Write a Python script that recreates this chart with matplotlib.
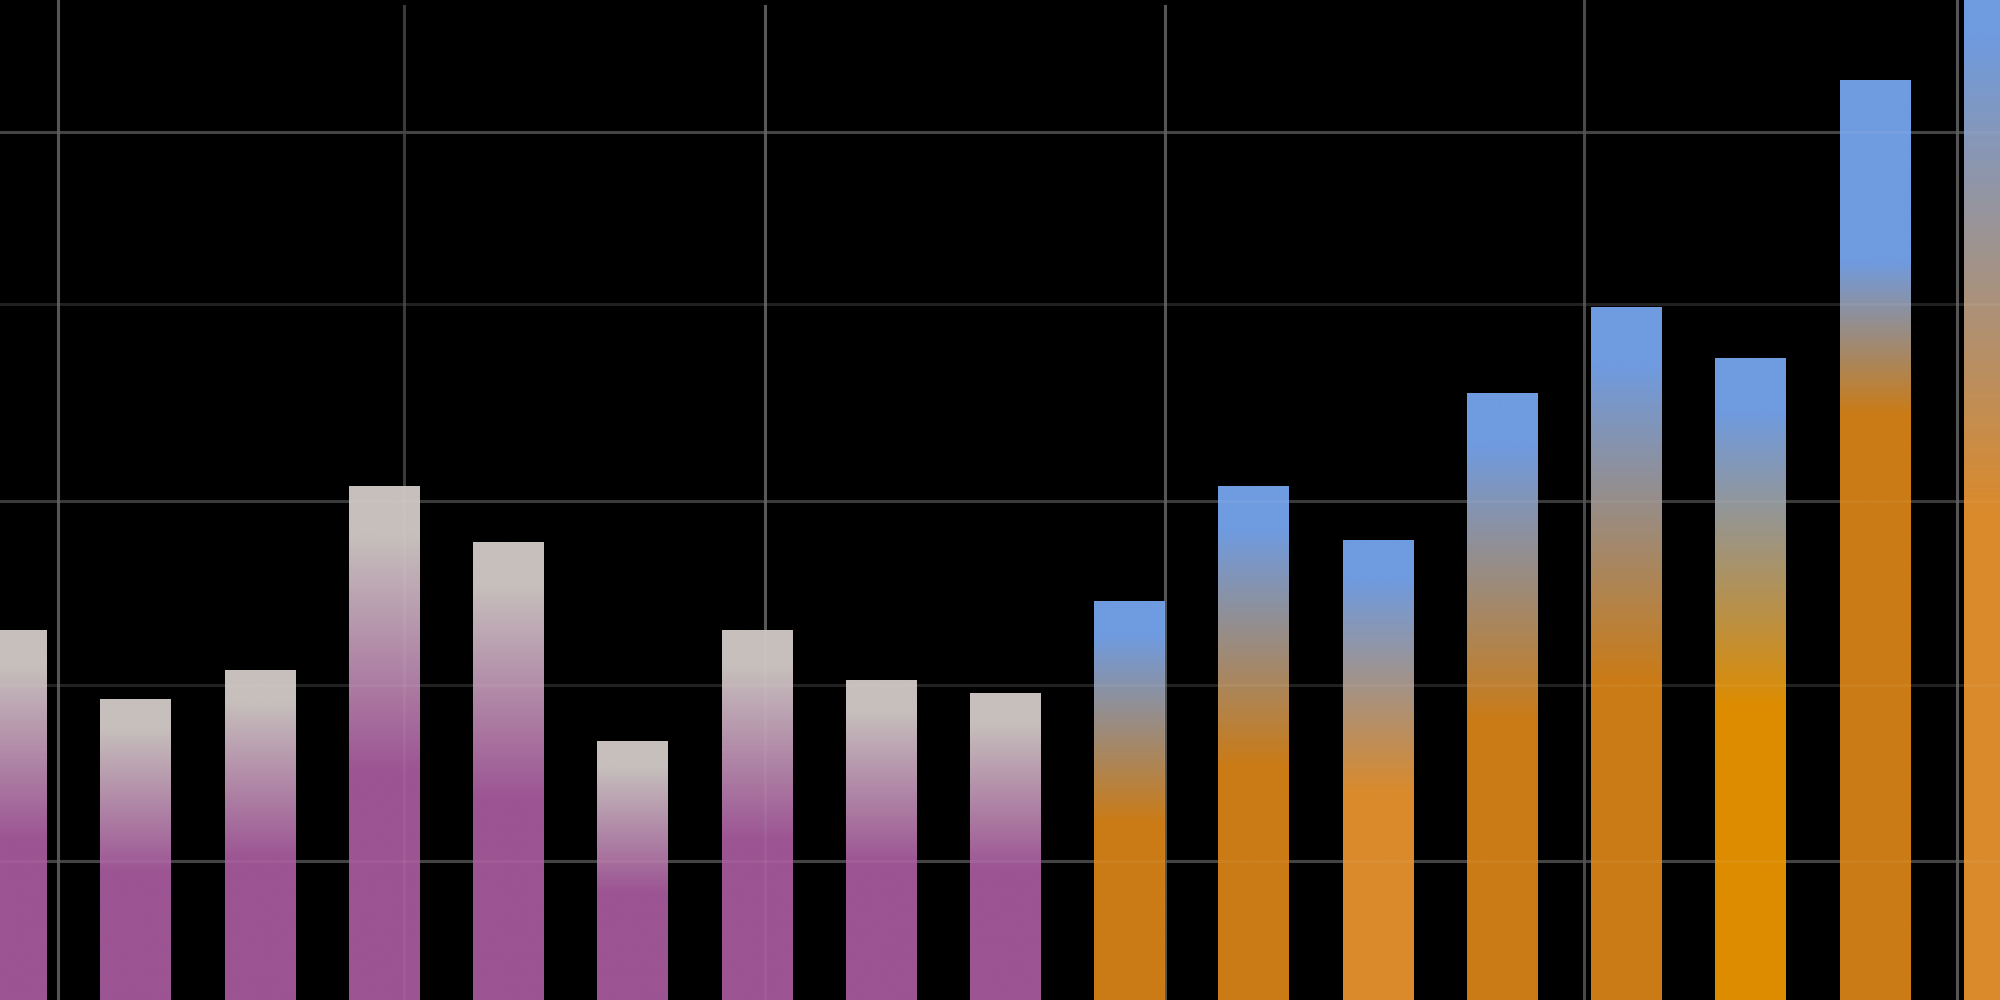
"""
Gradient bar chart on a black background: two groups of bars,
purple fading to grey and orange fading to blue toward the top.
"""

import numpy as np
import matplotlib.pyplot as plt
from matplotlib.colors import to_rgb

# bar values (baseline sits just under the bottom edge of the picture)
values = [39.8, 32.9, 35.8, 54.2, 48.6, 28.7, 39.8, 34.8, 33.5,
          42.7, 54.2, 48.8, 63.5, 72.1, 67.0, 94.8, 107.9]
series = ["purple"] * 9 + ["orange"] * 8

base_colors = ["#9C5493"] * 9 + ["#CB7B15", "#CB7B15", "#DA8A2B", "#CB7B15",
                                 "#CB7B15", "#DD8C00", "#CB7B15", "#DA8A2B"]
top_colors = {"purple": "#C6BFBC", "orange": "#6F9BE0"}

# fraction of bar height where blending starts / ends
blend_lo = [0.47] * 9 + [0.48] * 6 + [0.647, 0.48]
blend_hi = [0.91] * 9 + [0.92] * 6 + [0.81, 0.92]

# grid lines (position, grey level before the faint white overlay)
hgrid = [(89.6, "#3a3a3a"), (72.4, "#161616"), (52.7, "#303030"),
         (34.3, "#161616"), (16.7, "#3a3a3a")]
vgrid = [(0.376, "#4c4c4c", 1.0), (3.16, "#303030", 0.994),
         (6.07, "#505050", 0.994), (9.29, "#4c4c4c", 0.994),
         (12.66, "#404040", 1.0), (15.66, "#4c4c4c", 1.0)]
OVERLAY_ALPHA = 0.05

BAR_W = 0.564


def gradient_image(c_base, c_top, lo, hi, n=256):
    f = np.linspace(0, 1, n)
    t = np.clip((f - lo) / (hi - lo), 0, 1)
    a = np.array(to_rgb(c_base))
    b = np.array(to_rgb(c_top))
    rgb = a[None, :] * (1 - t[:, None]) + b[None, :] * t[:, None]
    return rgb[:, None, :]


fig = plt.figure(figsize=(20, 10), dpi=100, facecolor="black")
ax = fig.add_axes([0, 0, 1, 1])
ax.set_facecolor("black")

for y, c in hgrid:
    ax.axhline(y, color=c, lw=2.2, zorder=0)
for x, c, top in vgrid:
    ax.axvline(x, ymax=top, color=c, lw=2.2, zorder=0)

x = np.arange(len(values))
bars = ax.bar(x, values, width=BAR_W, color="none", edgecolor="none", zorder=1)
for i, (rect, v) in enumerate(zip(bars, values)):
    img = gradient_image(base_colors[i], top_colors[series[i]],
                         blend_lo[i], blend_hi[i])
    im = ax.imshow(img, extent=[x[i] - BAR_W / 2, x[i] + BAR_W / 2, 0, v],
                   origin="lower", aspect="auto", interpolation="bilinear",
                   zorder=1)
    im.set_clip_path(rect)

# faint grid showing through the bars
for y, c in hgrid:
    ax.axhline(y, color="white", alpha=OVERLAY_ALPHA, lw=2.2, zorder=2)
for xg, c, top in vgrid:
    ax.axvline(xg, ymax=top, color="white", alpha=OVERLAY_ALPHA, lw=2.2, zorder=2)

ax.set_xlim(-0.091, 16.01)
ax.set_ylim(2.8, 102.8)
ax.axis("off")

fig.savefig("out.png", dpi=100, facecolor="black")
